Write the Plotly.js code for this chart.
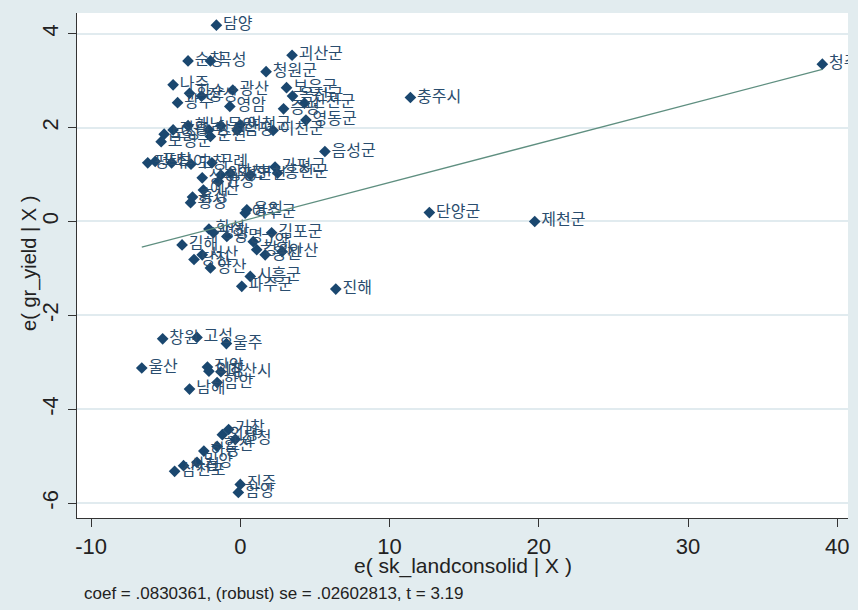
<!DOCTYPE html>
<html>
<head>
<meta charset="utf-8">
<script src="https://cdn.plot.ly/plotly-3.0.1.min.js"></script>
<style>html,body{margin:0;padding:0;background:#fff;}#chart{width:858px;height:610px;}</style>
</head>
<body>
<div id="chart"></div>
<script>
// Region labels
const regions = [
  "담양","순창","곡성","괴산군","청원군","나주","화순","장성","광산","보은군",
  "옥천군","광주","영암","증평","진천군","영동군","이천군","보성","보령군","장흥",
  "해남","강진","무안","함평","순천","여천군","음성군","평택","포천","부여",
  "고창","구례","가평군","상주","양평군","화천","연천","홍천군","안성","예산",
  "홍성","횡성","여주군","용인","화성","평창","김해","김포군","고양","광명",
  "당진","서산","양산","강화","옹진","안산","시흥군","파주군","진해","창원",
  "고성","울주","울산","진양","의창","마산시","남해","함안","의령","거창",
  "산청","하동","합천","삼천포","사천","밀양","진주","함양","충주시","단양군",
  "제천군","청주시"
];
// e( sk_landconsolid | X )
const xResid = [
  -1.6,-3.5,-2.0,3.47,1.73,-4.5,-3.4,-2.6,-0.5,3.1,
  3.5,-4.2,-0.7,2.9,4.3,4.4,2.2,-5.1,-5.3,-4.5,
  -3.5,-2.1,-1.3,-0.2,-2.0,0.0,5.67,-6.2,-5.7,-4.6,
  -3.3,-1.9,2.33,-2.55,-1.3,-0.67,0.67,2.5,-1.47,-2.47,
  -3.2,-3.33,0.33,0.44,-2.1,-1.8,-3.9,2.1,0.87,-0.9,
  -3.1,-2.55,-2.0,1.1,1.67,2.8,0.67,0.1,6.4,-5.2,
  -2.9,-0.93,-6.6,-2.2,-2.1,-1.3,-3.4,-1.55,-1.2,-0.78,
  -0.33,-2.44,-1.55,-4.4,-3.8,-2.9,0.0,-0.13,11.4,12.67,
  19.73,39.0
];
// e( gr_yield | X )
const yResid = [
  4.18,3.42,3.42,3.54,3.19,2.91,2.73,2.67,2.80,2.85,
  2.67,2.53,2.45,2.40,2.52,2.16,1.94,1.86,1.70,1.95,
  2.04,1.95,2.04,1.94,1.81,2.06,1.49,1.25,1.28,1.25,
  1.22,1.25,1.16,0.93,0.99,1.03,0.99,1.03,0.85,0.67,
  0.52,0.40,0.18,0.25,-0.16,-0.24,-0.50,-0.24,-0.43,-0.32,
  -0.81,-0.71,-0.99,-0.60,-0.71,-0.64,-1.17,-1.38,-1.44,-2.50,
  -2.47,-2.60,-3.12,-3.10,-3.19,-3.20,-3.57,-3.43,-4.54,-4.43,
  -4.64,-4.89,-4.79,-5.32,-5.20,-5.13,-5.60,-5.77,2.64,0.19,
  0.00,3.35
];
const coef = 0.0830361;
const xTicks = [-10,0,10,20,30,40];
const yTicks = [-6,-4,-2,0,2,4];
const xTitle = "e( sk_landconsolid | X )";
const yTitle = "e( gr_yield | X )";
const noteText = "coef = .0830361, (robust) se = .02602813, t = 3.19";

const xMin = Math.min(...xResid), xMax = Math.max(...xResid);
const fitX = [xMin, xMax];
const fitY = fitX.map(v => coef * v);

const sans = "Liberation Sans, Arial, sans-serif";

const traces = [
  {
    type: "scatter", mode: "markers+text",
    x: xResid, y: yResid, text: regions,
    textposition: "middle right",
    cliponaxis: true,
    marker: {symbol: "diamond", size: 9, color: "#1a476f"},
    textfont: {family: "Noto Sans CJK KR, sans-serif", size: 16, color: "#2a4d6e"},
    hoverinfo: "text", showlegend: false
  },
  {
    type: "scatter", mode: "lines",
    x: fitX, y: fitY,
    line: {color: "#5f8f80", width: 1.3},
    hoverinfo: "skip", showlegend: false
  }
];

const layout = {
  width: 858, height: 610,
  margin: {l: 77, r: 10, t: 13, b: 92},
  paper_bgcolor: "#e2ecef",
  plot_bgcolor: "#ffffff",
  showlegend: false,
  xaxis: {
    range: [-10.94, 40.72],
    tickvals: xTicks, ticktext: xTicks.map(String),
    showgrid: false, zeroline: false,
    showline: true, linecolor: "#333", linewidth: 1.2,
    ticks: "outside", ticklen: 8, tickcolor: "#333",
    tickfont: {family: sans, size: 22, color: "#222"}
  },
  yaxis: {
    range: [-6.315, 4.44],
    tickvals: yTicks, ticktext: yTicks.map(String),
    tickangle: -90,
    showgrid: true, gridcolor: "#e1ebef", gridwidth: 1.5,
    zeroline: false,
    showline: true, linecolor: "#333", linewidth: 1.2,
    ticks: "outside", ticklen: 8, tickcolor: "#333",
    ticklabelstandoff: 1,
    tickfont: {family: sans, size: 22, color: "#222"}
  },
  annotations: [
    {
      text: xTitle, xref: "paper", yref: "paper",
      x: 0.5, y: -0.095, xanchor: "center", yanchor: "middle",
      showarrow: false,
      font: {family: sans, size: 21, color: "#222"}
    },
    {
      text: yTitle, xref: "paper", yref: "paper",
      x: -0.061, y: 0.505, xanchor: "center", yanchor: "middle",
      textangle: -90, showarrow: false,
      font: {family: sans, size: 20, color: "#222"}
    },
    {
      text: noteText, xref: "paper", yref: "paper",
      x: 0.006, y: -0.1495, xanchor: "left", yanchor: "middle",
      showarrow: false,
      font: {family: sans, size: 17, color: "#222"}
    }
  ]
};

Plotly.newPlot("chart", traces, layout, {displayModeBar: false, responsive: false});
</script>
</body>
</html>
